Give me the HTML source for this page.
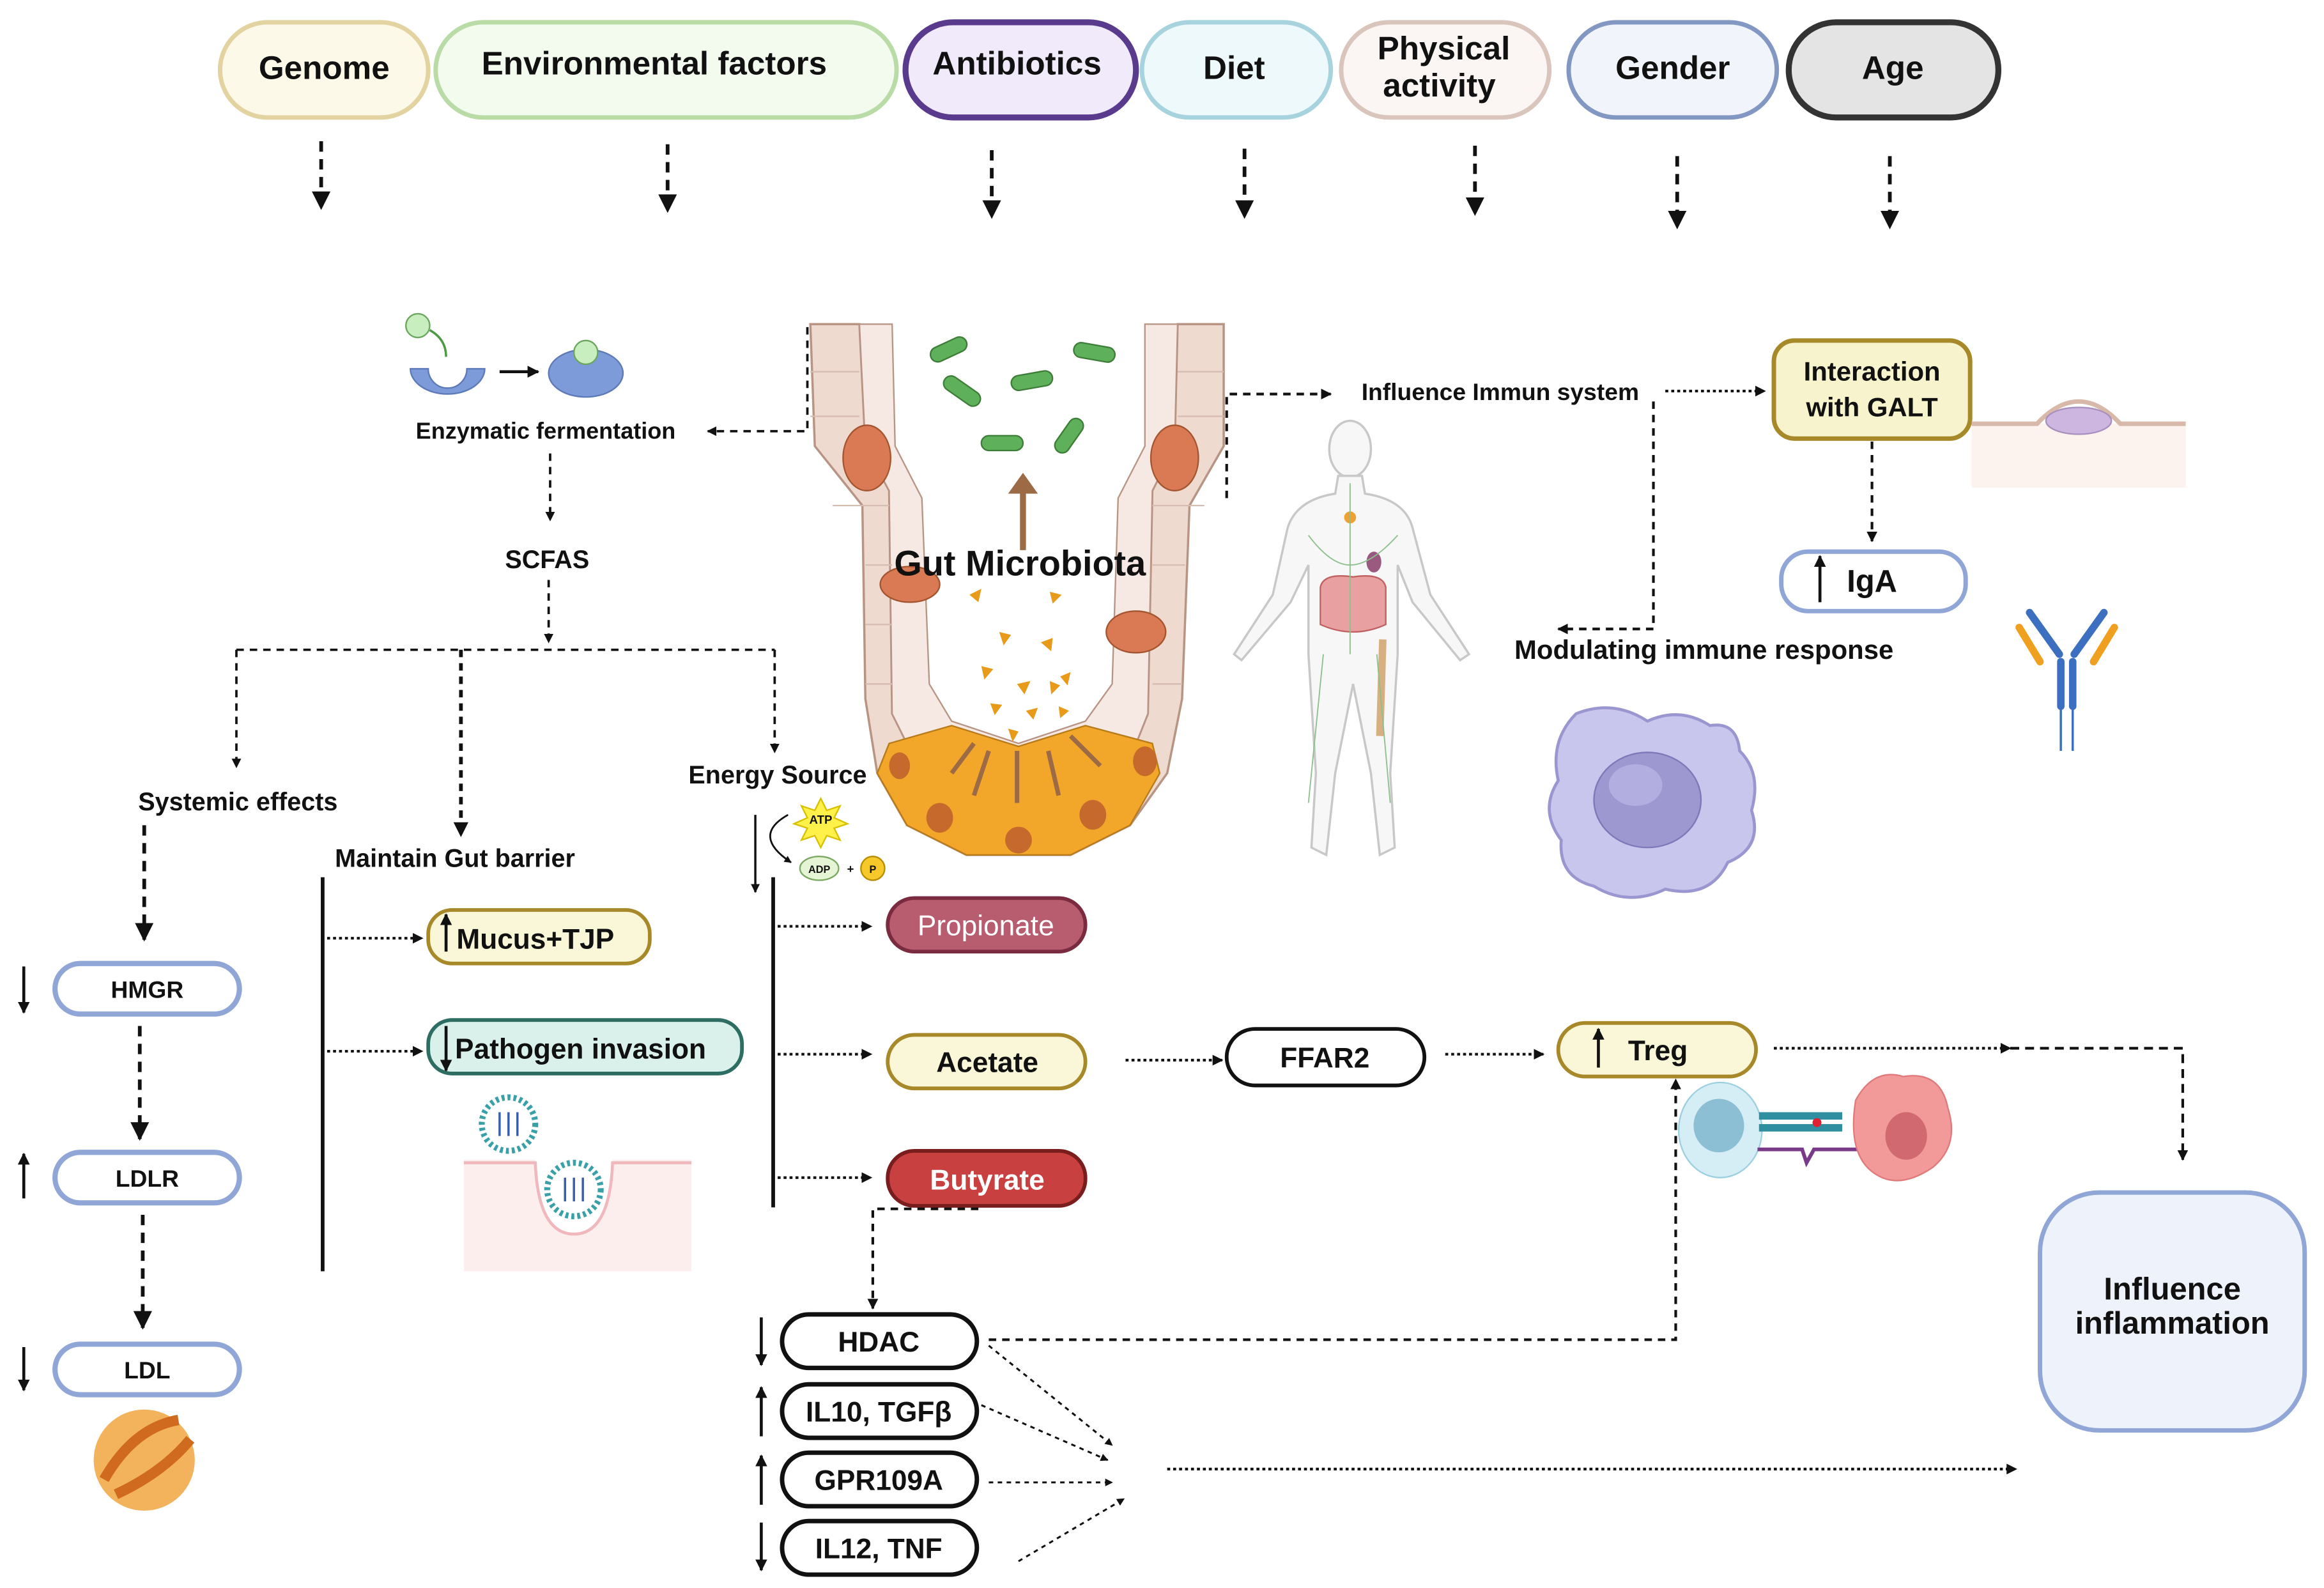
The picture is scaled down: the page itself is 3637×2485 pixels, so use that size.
<!DOCTYPE html>
<html><head><meta charset="utf-8"><style>
html,body{margin:0;padding:0;background:#fff}
svg{display:block}
text{font-family:"Liberation Sans",Arial,sans-serif;font-weight:bold;fill:#111}
</style></head><body>
<svg width="3637" height="2485" viewBox="0 0 1563 1068" preserveAspectRatio="none" xmlns="http://www.w3.org/2000/svg">
<defs>
<marker id="ah" viewBox="0 0 10 10" refX="9" refY="5" markerWidth="5" markerHeight="5" orient="auto"><path d="M0,0L10,5L0,10z" fill="#111"/></marker>
<marker id="ahb" viewBox="0 0 10 10" refX="9" refY="5" markerWidth="4" markerHeight="4" orient="auto"><path d="M0,0L10,5L0,10z" fill="#111"/></marker>
</defs>
<rect width="1563" height="1068" fill="#fff"/>

<!-- top pills -->
<g stroke-width="3">
<rect x="148" y="15" width="140" height="64" rx="32" fill="#fdf9e8" stroke="#e2d3a0"/>
<rect x="293" y="15" width="310" height="64" rx="32" fill="#f3fbef" stroke="#b9dba6"/>
<rect x="609" y="15" width="155" height="64" rx="32" fill="#f0eafa" stroke="#5a3a8c" stroke-width="4"/>
<rect x="768" y="15" width="127" height="64" rx="32" fill="#eef9fb" stroke="#a6d3dd"/>
<rect x="902" y="15" width="140" height="64" rx="32" fill="#fbf6f3" stroke="#d9c5bc"/>
<rect x="1055" y="15" width="140" height="64" rx="32" fill="#f1f4fb" stroke="#8298c2"/>
<rect x="1203" y="15" width="141" height="64" rx="32" fill="#e4e4e4" stroke="#333" stroke-width="4"/>
</g>
<g font-size="22" text-anchor="middle">
<text x="218" y="53">Genome</text>
<text x="440" y="50">Environmental factors</text>
<text x="684" y="50">Antibiotics</text>
<text x="830" y="53">Diet</text>
<text x="971" y="40">Physical</text>
<text x="968" y="65">activity</text>
<text x="1125" y="53">Gender</text>
<text x="1273" y="53">Age</text>
</g>
<g stroke="#111" stroke-width="2.5" stroke-dasharray="7,5" marker-end="url(#ah)">
<line x1="216" y1="95" x2="216" y2="140"/>
<line x1="449" y1="97" x2="449" y2="142"/>
<line x1="667" y1="101" x2="667" y2="146"/>
<line x1="837" y1="100" x2="837" y2="146"/>
<line x1="992" y1="98" x2="992" y2="144"/>
<line x1="1128" y1="105" x2="1128" y2="153"/>
<line x1="1271" y1="105" x2="1271" y2="153"/>
</g>

<!-- enzymes -->
<path d="M276,248 a25,17 0 1 0 50,0 l-12,0 a7,7 0 0 1 -26,0z" fill="#7d9bd8" stroke="#5c79b8"/>
<circle cx="281" cy="219" r="8" fill="#c8eec0" stroke="#6aa65e"/>
<path d="M289,222 Q300,228 300,240" stroke="#4d9a45" fill="none" stroke-width="1.5"/>
<ellipse cx="394" cy="251" rx="25" ry="16" fill="#7d9bd8" stroke="#5c79b8"/>
<circle cx="394" cy="237" r="8" fill="#c8eec0" stroke="#6aa65e"/>
<line x1="336" y1="250" x2="362" y2="250" stroke="#111" stroke-width="2" marker-end="url(#ahb)"/>
<text x="367" y="295" font-size="15.5" text-anchor="middle">Enzymatic fermentation</text>
<g stroke="#111" stroke-width="1.6" stroke-dasharray="5,4" fill="none">
<path d="M543,220 L543,290 L476,290" marker-end="url(#ahb)"/>
<line x1="370" y1="305" x2="370" y2="350" marker-end="url(#ahb)"/>
<line x1="369" y1="390" x2="369" y2="432" marker-end="url(#ahb)"/>
<path d="M159,437 L521,437"/>
<line x1="159" y1="437" x2="159" y2="516" marker-end="url(#ahb)"/>
<line x1="310" y1="437" x2="310" y2="562" stroke-width="2.5" marker-end="url(#ahb)"/>
<line x1="521" y1="437" x2="521" y2="506" marker-end="url(#ahb)"/>
</g>
<text x="368" y="382" font-size="17" text-anchor="middle">SCFAS</text>
<text x="160" y="545" font-size="17" text-anchor="middle">Systemic effects</text>
<text x="306" y="583" font-size="17" text-anchor="middle">Maintain Gut barrier</text>
<text x="523" y="527" font-size="17" text-anchor="middle">Energy Source</text>

<!-- gut crypt -->
<path d="M545,218 L578,218 L582,300 L598,330 L600,480 L615,510 L630,530 L660,545 L712,545 L740,530 L760,510 L772,480 L775,330 L790,300 L792,218 L823,218 L823,300 L800,340 L795,470 L785,520 L760,555 L720,575 L650,575 L610,555 L590,520 L582,470 L580,340 L548,300 Z" fill="#efdad0" stroke="#b89484" stroke-width="1.5"/>
<path d="M578,218 L600,218 L602,300 L620,335 L625,460 L640,485 L685,500 L730,485 L748,460 L752,335 L770,300 L770,218 L792,218 L790,300 L775,330 L772,480 L760,510 L740,530 L712,545 L660,545 L630,530 L615,510 L600,480 L598,330 L582,300Z" fill="#f6e8e2" stroke="#b89484" stroke-width="1"/>
<path d="M598,500 L640,488 L685,502 L730,488 L775,500 L780,520 L760,555 L720,575 L650,575 L610,555 L590,520Z" fill="#f2a62a" stroke="#b77b1a"/>
<g fill="#c56a2c"><ellipse cx="632" cy="550" rx="9" ry="10"/><ellipse cx="685" cy="565" rx="9" ry="9"/><ellipse cx="735" cy="548" rx="9" ry="10"/><ellipse cx="770" cy="512" rx="8" ry="10"/><ellipse cx="605" cy="515" rx="7" ry="9"/></g>
<g fill="#d97a55" stroke="#a4552f"><ellipse cx="583" cy="308" rx="16" ry="22"/><ellipse cx="790" cy="308" rx="16" ry="22"/><ellipse cx="612" cy="393" rx="20" ry="12"/><ellipse cx="764" cy="425" rx="20" ry="14"/></g>
<g stroke="#d6bdb2" stroke-width="1">
<line x1="545" y1="250" x2="578" y2="250"/><line x1="545" y1="280" x2="578" y2="280"/><line x1="560" y1="340" x2="598" y2="340"/><line x1="582" y1="380" x2="600" y2="380"/><line x1="582" y1="420" x2="600" y2="420"/><line x1="582" y1="460" x2="600" y2="460"/>
<line x1="792" y1="250" x2="823" y2="250"/><line x1="792" y1="280" x2="823" y2="280"/><line x1="775" y1="340" x2="810" y2="340"/><line x1="775" y1="380" x2="797" y2="380"/><line x1="775" y1="460" x2="795" y2="460"/>
</g>
<g fill="#5fb05a" stroke="#3d7d38">
<rect x="625" y="230" width="26" height="10" rx="5" transform="rotate(-25 638 235)"/>
<rect x="722" y="232" width="28" height="10" rx="5" transform="rotate(10 736 237)"/>
<rect x="633" y="258" width="28" height="10" rx="5" transform="rotate(35 647 263)"/>
<rect x="680" y="251" width="28" height="10" rx="5" transform="rotate(-10 694 256)"/>
<rect x="660" y="293" width="28" height="10" rx="5"/>
<rect x="706" y="288" width="26" height="10" rx="5" transform="rotate(-55 719 293)"/>
</g>
<line x1="688" y1="370" x2="688" y2="330" stroke="#9c6a44" stroke-width="4"/>
<path d="M678,332 L688,318 L698,332z" fill="#9c6a44"/>
<text x="686" y="387" font-size="24" text-anchor="middle">Gut Microbiota</text>
<g fill="#e89a1a">
<path d="M652,400l8,-4l-2,9z"/><path d="M706,398l8,2l-6,6z"/><path d="M672,425l8,2l-5,7z"/><path d="M700,432l8,-3l-1,9z"/><path d="M660,448l8,2l-6,7z"/><path d="M684,460l9,-2l-4,9z"/><path d="M706,458l7,3l-6,6z"/><path d="M720,452l-2,9l-5,-6z"/><path d="M666,473l8,1l-5,7z"/><path d="M690,478l8,-2l-3,8z"/><path d="M678,490l7,2l-4,7z"/><path d="M712,475l7,3l-6,5z"/>
</g>
<g stroke="#9c6a44" stroke-width="3"><line x1="684" y1="540" x2="684" y2="505"/><line x1="655" y1="535" x2="665" y2="505"/><line x1="712" y1="535" x2="705" y2="505"/><line x1="740" y1="515" x2="720" y2="495"/><line x1="640" y1="520" x2="655" y2="500"/></g>

<!-- left column -->
<g stroke="#111" stroke-width="2.5" stroke-dasharray="7,5">
<line x1="97" y1="555" x2="97" y2="632" marker-end="url(#ah)"/>
<line x1="94" y1="690" x2="94" y2="766" marker-end="url(#ah)"/>
<line x1="96" y1="817" x2="96" y2="893" marker-end="url(#ah)"/>
</g>
<g fill="#fff" stroke="#8fa6d6" stroke-width="3.5">
<rect x="37" y="648" width="124" height="34" rx="17"/>
<rect x="37" y="775" width="124" height="34" rx="17"/>
<rect x="37" y="904" width="124" height="34" rx="17"/>
</g>
<g font-size="16" text-anchor="middle"><text x="99" y="671">HMGR</text><text x="99" y="798">LDLR</text><text x="99" y="927">LDL</text></g>
<g stroke="#111" stroke-width="2" marker-end="url(#ahb)">
<line x1="16" y1="650" x2="16" y2="681"/><line x1="16" y1="806" x2="16" y2="776"/><line x1="16" y1="906" x2="16" y2="935"/>
</g>
<circle cx="97" cy="982" r="34" fill="#f2b35c"/>
<path d="M70,995 Q90,960 120,955 M78,1005 Q110,990 128,968" stroke="#d06a1e" stroke-width="7" fill="none"/>

<!-- gut barrier -->
<line x1="217" y1="590" x2="217" y2="855" stroke="#111" stroke-width="2.5"/>
<g stroke="#111" stroke-width="1.8" stroke-dasharray="2,2" marker-end="url(#ahb)">
<line x1="220" y1="631" x2="284" y2="631"/><line x1="220" y1="707" x2="284" y2="707"/>
</g>
<rect x="288" y="612" width="149" height="36" rx="16" fill="#faf6d8" stroke="#a8892a" stroke-width="2.5"/>
<rect x="288" y="686" width="211" height="36" rx="16" fill="#daf0ea" stroke="#2e6e62" stroke-width="2.5"/>
<text x="307" y="638" font-size="19">Mucus+TJP</text>
<text x="306" y="712" font-size="19">Pathogen invasion</text>
<line x1="300" y1="640" x2="300" y2="615" stroke="#111" stroke-width="2" marker-end="url(#ahb)"/>
<line x1="300" y1="690" x2="300" y2="720" stroke="#111" stroke-width="2" marker-end="url(#ahb)"/>
<path d="M312,780 L360,780 Q362,830 386,830 Q410,830 412,780 L465,780 L465,855 L312,855Z" fill="#fdeeee" stroke="none"/>
<path d="M312,782 L360,782 Q362,830 386,830 Q410,830 412,782 L465,782" fill="none" stroke="#f0b8bc" stroke-width="2"/>
<circle cx="342" cy="756" r="18" fill="#fff" stroke="#3aa0a8" stroke-width="4" stroke-dasharray="2,2"/>
<circle cx="386" cy="800" r="18" fill="#fff" stroke="#3aa0a8" stroke-width="4" stroke-dasharray="2,2"/>
<g stroke="#3a5ea8" stroke-width="1.5"><line x1="336" y1="748" x2="336" y2="764"/><line x1="342" y1="748" x2="342" y2="764"/><line x1="348" y1="748" x2="348" y2="764"/><line x1="380" y1="792" x2="380" y2="808"/><line x1="386" y1="792" x2="386" y2="808"/><line x1="392" y1="792" x2="392" y2="808"/></g>

<!-- energy source -->
<line x1="520" y1="590" x2="520" y2="812" stroke="#111" stroke-width="2.5"/>
<line x1="508" y1="548" x2="508" y2="600" stroke="#111" stroke-width="1.5" marker-end="url(#ahb)"/>
<path d="M530,548 Q505,562 532,580" stroke="#111" stroke-width="1.2" fill="none" marker-end="url(#ahb)"/>
<path d="M552,537 l4,8 9,-3 -4,8 9,4 -9,3 4,8 -9,-3 -4,8 -4,-8 -9,3 4,-8 -9,-3 9,-4 -4,-8 9,3z" fill="#fff04a" stroke="#d8c000"/>
<text x="552" y="554" font-size="8" text-anchor="middle">ATP</text>
<ellipse cx="551" cy="584" rx="13" ry="8" fill="#e6f4d6" stroke="#7aa860"/>
<text x="551" y="587" font-size="7" font-weight="normal" text-anchor="middle">ADP</text>
<text x="572" y="587" font-size="8" text-anchor="middle">+</text>
<circle cx="587" cy="584" r="8" fill="#f7c82a" stroke="#b58d00"/>
<text x="587" y="587" font-size="7" text-anchor="middle">P</text>
<g stroke="#111" stroke-width="1.8" stroke-dasharray="2,2" marker-end="url(#ahb)">
<line x1="523" y1="623" x2="586" y2="623"/><line x1="523" y1="709" x2="586" y2="709"/><line x1="523" y1="792" x2="586" y2="792"/>
<line x1="757" y1="713" x2="822" y2="713"/><line x1="972" y1="709" x2="1038" y2="709"/>
<line x1="1193" y1="705" x2="1352" y2="705"/>
</g>
<rect x="597" y="604" width="133" height="36" rx="18" fill="#b85c70" stroke="#7a2b3f" stroke-width="2.5"/>
<rect x="597" y="696" width="133" height="36" rx="18" fill="#faf6d8" stroke="#a8892a" stroke-width="2.5"/>
<rect x="597" y="774" width="133" height="37" rx="18" fill="#c94040" stroke="#7a1d1d" stroke-width="2.5"/>
<rect x="825" y="692" width="133" height="38" rx="19" fill="#fff" stroke="#111" stroke-width="2.5"/>
<rect x="1048" y="688" width="133" height="36" rx="18" fill="#faf6d8" stroke="#a8892a" stroke-width="2.5"/>
<g font-size="19" text-anchor="middle">
<text x="663" y="629" style="fill:#fff;font-weight:normal">Propionate</text>
<text x="664" y="721">Acetate</text>
<text x="664" y="800" style="fill:#fff">Butyrate</text>
<text x="891" y="718">FFAR2</text>
<text x="1115" y="713">Treg</text>
</g>
<line x1="1075" y1="718" x2="1075" y2="692" stroke="#111" stroke-width="2" marker-end="url(#ahb)"/>
<path d="M1352,705 L1468,705 L1468,780" stroke="#111" stroke-width="1.8" stroke-dasharray="6,4" fill="none" marker-end="url(#ahb)"/>
<rect x="1372" y="802" width="178" height="160" rx="40" fill="#eef3fb" stroke="#8fa6d6" stroke-width="3"/>
<text x="1461" y="874" font-size="21" text-anchor="middle">Influence</text>
<text x="1461" y="897" font-size="21" text-anchor="middle">inflammation</text>
<!-- treg cells -->
<ellipse cx="1157" cy="760" rx="28" ry="32" fill="#d5eef6" stroke="#9ccfe0"/>
<ellipse cx="1156" cy="757" rx="17" ry="18" fill="#8cbfd4"/>
<rect x="1183" y="748" width="56" height="5" fill="#2f8fa0"/><rect x="1183" y="756" width="56" height="5" fill="#2f8fa0"/>
<circle cx="1222" cy="755" r="3" fill="#e02030"/>
<path d="M1182,773 L1212,773 L1215,782 L1220,773 L1250,773" stroke="#7a3a8a" stroke-width="2.5" fill="none"/>
<path d="M1248,740 Q1260,718 1280,724 Q1305,720 1310,745 Q1318,770 1300,785 Q1278,800 1262,790 Q1242,778 1248,740z" fill="#f29a9a" stroke="#e07a7a"/>
<ellipse cx="1282" cy="764" rx="14" ry="16" fill="#d06a70"/>

<!-- butyrate branch -->
<g stroke="#111" stroke-width="1.8" stroke-dasharray="5,4" fill="none">
<path d="M658,813 L587,813 L587,880" marker-end="url(#ahb)"/>
<path d="M665,901 L1127,901 L1127,726" marker-end="url(#ahb)"/>
</g>
<g fill="#fff" stroke="#111" stroke-width="3">
<rect x="526" y="884" width="131" height="36" rx="18"/>
<rect x="526" y="931" width="131" height="36" rx="18"/>
<rect x="526" y="977" width="131" height="36" rx="18"/>
<rect x="526" y="1023" width="131" height="36" rx="18"/>
</g>
<g font-size="19" text-anchor="middle">
<text x="591" y="909">HDAC</text><text x="591" y="956">IL10, TGFβ</text><text x="591" y="1002">GPR109A</text><text x="591" y="1048">IL12, TNF</text>
</g>
<g stroke="#111" stroke-width="2" marker-end="url(#ahb)">
<line x1="512" y1="886" x2="512" y2="918"/><line x1="512" y1="966" x2="512" y2="933"/><line x1="512" y1="1012" x2="512" y2="979"/><line x1="512" y1="1024" x2="512" y2="1056"/>
</g>
<g stroke="#111" stroke-width="1.3" stroke-dasharray="3,3" marker-end="url(#ahb)">
<line x1="665" y1="905" x2="748" y2="972"/><line x1="660" y1="945" x2="745" y2="982"/><line x1="665" y1="997" x2="748" y2="997"/><line x1="685" y1="1050" x2="756" y2="1008"/>
</g>
<line x1="785" y1="988" x2="1356" y2="988" stroke="#111" stroke-width="1.8" stroke-dasharray="2,2" marker-end="url(#ahb)"/>

<!-- immune side -->
<g stroke="#111" stroke-width="1.8" stroke-dasharray="5,4" fill="none">
<path d="M825,335 L825,265 L895,265" marker-end="url(#ahb)"/>
<path d="M1112,270 L1112,423 L1048,423" marker-end="url(#ahb)"/>
<line x1="1259" y1="297" x2="1259" y2="364" marker-end="url(#ahb)"/>
</g>
<line x1="1120" y1="263" x2="1187" y2="263" stroke="#111" stroke-width="1.8" stroke-dasharray="2,2" marker-end="url(#ahb)"/>
<text x="1009" y="269" font-size="16" text-anchor="middle">Influence Immun system</text>
<text x="1146" y="443" font-size="18" text-anchor="middle">Modulating immune response</text>
<rect x="1193" y="229" width="132" height="66" rx="14" fill="#f7f3cd" stroke="#a8892a" stroke-width="3"/>
<text x="1259" y="256" font-size="18" text-anchor="middle">Interaction</text>
<text x="1259" y="280" font-size="18" text-anchor="middle">with GALT</text>
<rect x="1326" y="285" width="144" height="43" fill="#fdf3ee"/>
<path d="M1326,285 L1370,285 Q1398,255 1426,285 L1470,285" fill="none" stroke="#d8b8a8" stroke-width="3"/>
<ellipse cx="1398" cy="283" rx="22" ry="9" fill="#cdb6e0" stroke="#a890c0"/>
<rect x="1198" y="371" width="124" height="40" rx="18" fill="#fff" stroke="#8fa6d6" stroke-width="3"/>
<text x="1259" y="398" font-size="21" text-anchor="middle">IgA</text>
<line x1="1224" y1="405" x2="1224" y2="374" stroke="#111" stroke-width="2" marker-end="url(#ahb)"/>
<!-- antibody -->
<g stroke-width="5" stroke-linecap="round">
<line x1="1385" y1="440" x2="1365" y2="412" stroke="#3d6fc0"/><line x1="1395" y1="440" x2="1415" y2="412" stroke="#3d6fc0"/>
<line x1="1372" y1="445" x2="1358" y2="422" stroke="#f0a020"/><line x1="1408" y1="445" x2="1422" y2="422" stroke="#f0a020"/>
<line x1="1386" y1="445" x2="1386" y2="475" stroke="#3d6fc0"/><line x1="1394" y1="445" x2="1394" y2="475" stroke="#3d6fc0"/>
</g>
<line x1="1386" y1="475" x2="1386" y2="505" stroke="#3d6fc0" stroke-width="1.5"/><line x1="1394" y1="475" x2="1394" y2="505" stroke="#3d6fc0" stroke-width="1.5"/>
<!-- body -->
<g fill="#f7f7f7" stroke="#c8c8c8" stroke-width="1.5">
<ellipse cx="908" cy="302" rx="14" ry="19"/>
<path d="M900,320 L916,320 L918,332 Q945,336 950,355 L962,400 L988,440 L982,444 L950,405 L940,380 L940,440 L935,520 L938,570 L928,575 L922,520 L910,460 L898,520 L892,575 L882,570 L885,520 L880,440 L880,380 L868,405 L835,444 L830,440 L856,400 L866,355 Q872,336 898,332Z"/>
</g>
<path d="M888,395 Q890,385 910,388 Q930,385 932,395 L932,420 Q910,430 888,420Z" fill="#e9a0a0" stroke="#c06060"/>
<ellipse cx="924" cy="378" rx="5" ry="7" fill="#9a5a80"/>
<circle cx="908" cy="348" r="4" fill="#f0a030"/>
<line x1="930" y1="430" x2="928" y2="495" stroke="#d6b080" stroke-width="5"/>
<g stroke="#8cc08c" stroke-width="0.8" fill="none"><path d="M908,325 L908,440 M880,360 Q895,380 908,380 Q922,380 940,360 M890,440 L880,540 M926,440 L935,540"/></g>
<!-- macrophage -->
<path d="M1060,480 Q1085,470 1108,485 Q1130,475 1150,488 Q1168,485 1170,505 Q1185,520 1178,545 Q1186,570 1162,580 Q1150,605 1120,598 Q1095,610 1072,596 Q1048,590 1050,565 Q1035,545 1048,525 Q1042,498 1060,480Z" fill="#c9c6ee" stroke="#9a96d0" stroke-width="2"/>
<ellipse cx="1108" cy="538" rx="36" ry="32" fill="#9d98cf" stroke="#7d78b8"/>
<ellipse cx="1100" cy="528" rx="18" ry="14" fill="#b3aee0"/>
</svg>
</body></html>
